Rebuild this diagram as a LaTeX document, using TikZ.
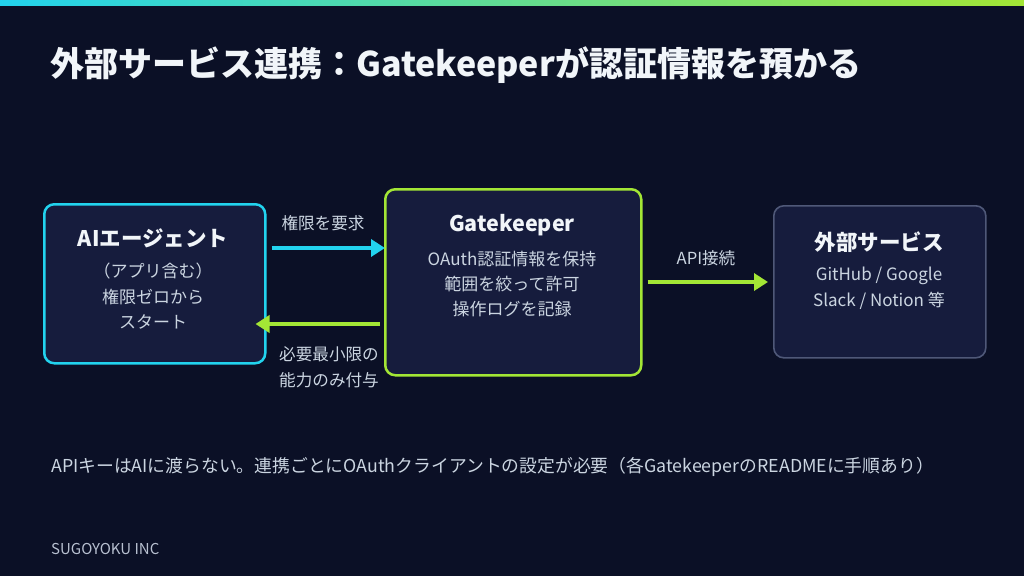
\documentclass[tikz,border=0pt]{standalone}
\usepackage{fontspec}
\setmainfont{Noto Sans CJK JP}
\usetikzlibrary{arrows.meta,calc}
\definecolor{bgc}{HTML}{0B1026}
\definecolor{boxc}{HTML}{161C3D}
\definecolor{cyanc}{HTML}{22D3EE}
\definecolor{limec}{HTML}{A3E635}
\definecolor{grayb}{HTML}{4F5878}
\definecolor{txtw}{HTML}{F1F5F9}
\definecolor{txtl}{HTML}{CBD5E1}
\definecolor{txtg}{HTML}{B8C0D0}
\tikzset{
  box/.style={draw, line width=2.5pt, rounded corners=10pt, fill=boxc, inner sep=0pt, anchor=north west},
  boxtitle/.style={text=txtw, font=\fontsize{21.5}{26}\selectfont\bfseries, inner sep=0pt},
  boxline/.style={text=txtl, font=\fontsize{17}{21}\selectfont, inner sep=0pt},
  lbl/.style={text=txtl, font=\fontsize{16.6}{20}\selectfont, inner sep=0pt},
  arr/.style={line width=4pt, -{Triangle[length=14pt,width=17pt]}},
}
\begin{document}
\begin{tikzpicture}[x=1pt,y=-1pt]
\fill[bgc] (0,0) rectangle (1024,576);
\useasboundingbox (0,0) rectangle (1024,576);
\shade[left color=cyanc, right color=limec] (0,0) rectangle (1024,5.5);
% title
\node[anchor=west, text=txtw, font=\fontsize{34}{40}\selectfont\bfseries, inner sep=0pt] (title) at (50,65) {外部サービス連携：Gatekeeperが認証情報を預かる};
% boxes
\node[box, draw=cyanc, minimum width=221pt, minimum height=159pt] (a) at (43,203) {};
\node[box, draw=limec, minimum width=256pt, minimum height=186pt] (g) at (384,188) {};
\node[box, draw=grayb, line width=1.6pt, minimum width=212pt, minimum height=152pt] (e) at (773,205) {};
% box texts
\node[boxtitle] (at) at (153,238) {AIエージェント};
\node[boxline] (a1) at (153,271) {（アプリ含む）};
\node[boxline] (a2) at (153,297) {権限ゼロから};
\node[boxline] (a3) at (153,322) {スタート};
\node[boxtitle] (gt) at (512,225) {Gatekeeper};
\node[boxline] (g1) at (512,259) {OAuth認証情報を保持};
\node[boxline] (g2) at (512,284) {範囲を絞って許可};
\node[boxline] (g3) at (512,309) {操作ログを記録};
\node[boxtitle] (et) at (879,242) {外部サービス};
\node[boxline] (e1) at (879,276) {GitHub / Google};
\node[boxline] (e2) at (879,301) {Slack / Notion 等};
% connectors
\coordinate (r1) at (0,248);
\coordinate (r2) at (0,324);
\coordinate (r3) at (0,282);
\draw[arr, cyanc] ($(a.east |- r1)+(5,0)$) -- ($(g.west |- r1)+(1,0)$);
\draw[arr, limec] ($(g.west |- r2)+(-4,0)$) -- ($(a.east |- r2)+(-11,0)$);
\draw[arr, limec] ($(g.east |- r3)+(5,0)$) -- ($(e.west |- r3)+(-5,0)$);
% labels
\node[lbl] (l1) at (323,223) {権限を要求};
\node[lbl, anchor=west] (l2) at (279,354) {必要最小限の};
\node[lbl, anchor=west] (l3) at (279,380) {能力のみ付与};
\node[lbl] (l4) at (706,258) {API接続};
% footer
\node[anchor=west, text=txtl, font=\fontsize{17.8}{22}\selectfont, inner sep=0pt] (note) at (51,467) {APIキーはAIに渡らない。連携ごとにOAuthクライアントの設定が必要（各GatekeeperのREADMEに手順あり）};
\node[anchor=west, text=txtg, font=\fontsize{15}{18}\selectfont, inner sep=0pt] (co) at (51,549) {SUGOYOKU INC};
\end{tikzpicture}
\end{document}
